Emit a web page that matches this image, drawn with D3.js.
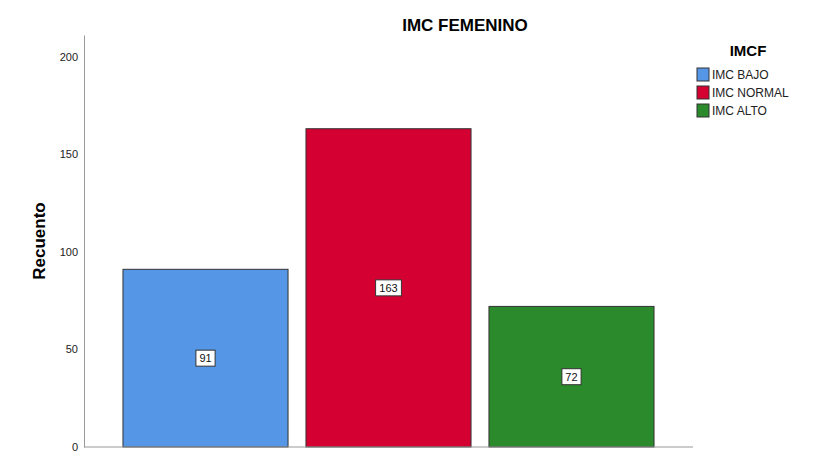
<!DOCTYPE html>
<html>
<head>
<meta charset="utf-8">
<script src="https://cdn.jsdelivr.net/npm/d3@7"></script>
<style>
  body { margin: 0; background: #fff; }
  text { font-family: Arial, "Liberation Sans", sans-serif; }
</style>
</head>
<body>
<div id="chart"></div>
<script>
// data
var categories = ['IMC BAJO', 'IMC NORMAL', 'IMC ALTO']
var counts = [91, 163, 72]
var colors = ['#5596e6', '#d50032', '#2b8a2b']
var yTicks = [0, 50, 100, 150, 200]

var W = 816
var H = 465
var margin = { top: 35, left: 84, right: 123, bottom: 18 }
var width = W - margin.left - margin.right
var height = H - margin.top - margin.bottom

var svg = d3.select('#chart')
  .append('svg')
  .attr('width', W)
  .attr('height', H)

var xPositionScale = d3.scaleBand()
  .domain(categories)
  .range([0, width])
  .paddingInner(0.098)
  .paddingOuter(0.213)

var yPositionScale = d3.scaleLinear()
  .domain([0, 211])
  .range([height, 0])

var g = svg.append('g')
  .attr('transform', 'translate(' + margin.left + ',' + margin.top + ')')

// bars
g.selectAll('.bar')
  .data(counts)
  .enter()
  .append('rect')
  .attr('class', 'bar')
  .attr('x', (d, i) => xPositionScale(categories[i]))
  .attr('y', d => yPositionScale(d))
  .attr('width', xPositionScale.bandwidth())
  .attr('height', d => height - yPositionScale(d))
  .attr('fill', (d, i) => colors[i])
  .attr('stroke', '#333')
  .attr('stroke-width', 1)

// y axis, no tick marks
var yAxis = d3.axisLeft(yPositionScale).tickValues(yTicks).tickSize(0).tickPadding(6)
var ya = g.append('g').attr('class', 'axis y-axis').call(yAxis)
ya.select('.domain').attr('stroke', '#999')
ya.selectAll('text').attr('font-size', '11px').attr('fill', '#222')

// baseline
g.append('line')
  .attr('x1', 0)
  .attr('x2', width)
  .attr('y1', height)
  .attr('y2', height)
  .attr('stroke', '#999')

// value labels
var labels = g.selectAll('.lbl')
  .data(counts)
  .enter()
  .append('g')
  .attr('class', 'lbl')
  .attr('transform', (d, i) => 'translate(' +
    (xPositionScale(categories[i]) + xPositionScale.bandwidth() / 2) + ',' +
    (yPositionScale(d / 2)) + ')')

labels.append('rect')
  .attr('x', d => -(String(d).length * 3.3 + 3))
  .attr('y', -8)
  .attr('width', d => String(d).length * 6.6 + 6)
  .attr('height', 16)
  .attr('fill', '#fff')
  .attr('stroke', '#333')

labels.append('text')
  .text(d => d)
  .attr('text-anchor', 'middle')
  .attr('dy', 4)
  .attr('font-size', '11px')
  .attr('fill', '#111')

// title
svg.append('text')
  .text('IMC FEMENINO')
  .attr('x', 465)
  .attr('y', 31)
  .attr('text-anchor', 'middle')
  .attr('font-size', '17px')
  .attr('font-weight', 'bold')

// y label
svg.append('text')
  .text('Recuento')
  .attr('transform', 'translate(45,' + (margin.top + height / 2) + ') rotate(-90)')
  .attr('text-anchor', 'middle')
  .attr('font-size', '17px')
  .attr('font-weight', 'bold')

// legend
var legend = svg.append('g').attr('transform', 'translate(697,0)')
legend.append('text')
  .text('IMCF')
  .attr('x', 51)
  .attr('y', 56)
  .attr('text-anchor', 'middle')
  .attr('font-size', '15px')
  .attr('font-weight', 'bold')

var items = legend.selectAll('.item')
  .data(categories)
  .enter()
  .append('g')
  .attr('class', 'item')
  .attr('transform', (d, i) => 'translate(0,' + (68 + i * 18) + ')')

items.append('rect')
  .attr('width', 12)
  .attr('height', 13)
  .attr('fill', (d, i) => colors[i])
  .attr('stroke', '#333')

items.append('text')
  .text(d => d)
  .attr('x', 15)
  .attr('y', 11)
  .attr('font-size', '12px')
  .attr('fill', '#222')
</script>
</body>
</html>
